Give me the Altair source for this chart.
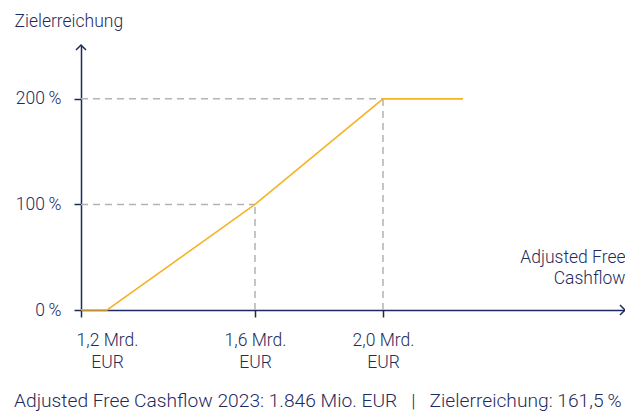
import altair as alt
import pandas as pd

# Data
line_x = [1.2, 1.26, 1.6, 2.0, 2.25]
line_y = [0, 0, 100, 200, 200]
guide_x = [1.6, 2.0]
guide_y = [100, 200]
x_ticks = [1.2, 1.6, 2.0]
y_ticks = [0, 100, 200]
x_domain = [1.2, 1.6, 2.0, 2.756]
y_domain = [0, 251]
footer = "Adjusted Free Cashflow 2023: 1.846 Mio. EUR\u00a0\u00a0\u00a0|\u00a0\u00a0\u00a0Zielerreichung: 161,5\u2009%"

NAVY = "#1d2a5c"
LABEL = "#1f2b5c"
FONT = "Roboto"
FW = 300

line_df = pd.DataFrame({"x": line_x, "y": line_y})
hrule_df = pd.DataFrame({"x0": [x_domain[0]] * len(guide_x), "x": guide_x, "y": guide_y})
vrule_df = pd.DataFrame({"x": guide_x, "y0": [0] * len(guide_y), "y": guide_y})
arrow_x_df = pd.DataFrame({"x": [x_domain[-1]], "y": [y_domain[0]]})
arrow_y_df = pd.DataFrame({"x": [x_domain[0]], "y": [y_domain[-1]]})

xs = alt.Scale(domain=x_domain, range=[0, 174, 302, 544], nice=False, zero=False)
ys = alt.Scale(domain=y_domain, nice=False, zero=False)

xaxis = alt.Axis(
    values=x_ticks,
    labelExpr="[replace(format(datum.value, '.1f'), '.', ',') + ' Mrd.', 'EUR']",
    labelLineHeight=22,
    labelFontSize=17.5,
    labelFontWeight=FW,
    labelColor=LABEL,
    labelPadding=14,
    labelBaseline="top",
    labelFlush=False,
    labelOffset={"condition": {"test": "datum.value < 1.3", "value": 26}, "value": 0},
    tickSize=7,
    tickWidth=1.5,
    tickColor=NAVY,
    domainColor=NAVY,
    domainWidth=1.5,
    grid=False,
    title=["Adjusted Free", "Cashflow"],
    titleX=544,
    titleY=-48,
    titleAlign="right",
    titleBaseline="alphabetic",
    titleAngle=0,
    titleFontSize=17.5,
    titleFontWeight=FW,
    titleColor=LABEL,
    titleLineHeight=21,
)
yaxis = alt.Axis(
    values=y_ticks,
    labelExpr="datum.value + '\u2009%'",
    labelFontSize=17.5,
    labelFontWeight=FW,
    labelColor=LABEL,
    labelPadding=13,
    tickSize=7,
    tickWidth=1.5,
    tickColor=NAVY,
    domainColor=NAVY,
    domainWidth=1.5,
    grid=False,
    title="Zielerreichung",
    titleAngle=0,
    titleX=-67,
    titleY=-19,
    titleAlign="left",
    titleBaseline="alphabetic",
    titleFontSize=17.5,
    titleFontWeight=FW,
    titleColor=LABEL,
)

hrules = alt.Chart(hrule_df).mark_rule(color="#b3b3b3", strokeDash=[7, 5], strokeWidth=1.5).encode(
    x=alt.X("x0:Q", scale=xs, axis=xaxis),
    x2="x:Q",
    y=alt.Y("y:Q", scale=ys, axis=yaxis),
)
vrules = alt.Chart(vrule_df).mark_rule(color="#b3b3b3", strokeDash=[7, 5], strokeWidth=1.5).encode(
    x=alt.X("x:Q", scale=xs, axis=xaxis),
    y=alt.Y("y0:Q", scale=ys, axis=yaxis),
    y2="y:Q",
)
line = alt.Chart(line_df).mark_line(color="#f6b327", strokeWidth=1.6).encode(
    x=alt.X("x:Q", scale=xs, axis=xaxis),
    y=alt.Y("y:Q", scale=ys, axis=yaxis),
)
arrow_x = alt.Chart(arrow_x_df).mark_point(
    shape="M -1 -1 L 0 0 L -1 1", filled=False, stroke=NAVY, strokeWidth=1.5, size=100, opacity=1
).encode(x=alt.X("x:Q", scale=xs, axis=xaxis), y=alt.Y("y:Q", scale=ys, axis=yaxis))
arrow_y = alt.Chart(arrow_y_df).mark_point(
    shape="M -1 1 L 0 0 L 1 1", filled=False, stroke=NAVY, strokeWidth=1.5, size=100, opacity=1
).encode(x=alt.X("x:Q", scale=xs, axis=xaxis), y=alt.Y("y:Q", scale=ys, axis=yaxis))

chart = (
    alt.layer(hrules, vrules, line, arrow_x, arrow_y)
    .properties(
        width=544,
        height=265,
        autosize=alt.AutoSizeParams(type="none"),
        padding={"left": 73, "top": 37, "right": 0, "bottom": 101},
        title=alt.TitleParams(
            text=footer,
            orient="bottom",
            anchor="start",
            frame="group",
            dx=-67,
            offset=36,
            baseline="alphabetic",
            fontSize=19.2,
            fontWeight=FW,
            color=LABEL,
            font=FONT,
        ),
    )
    .configure(font=FONT, background="white")
    .configure_view(stroke=None)
)

chart.save("out.html", embed_options={"renderer": "svg", "actions": False})
